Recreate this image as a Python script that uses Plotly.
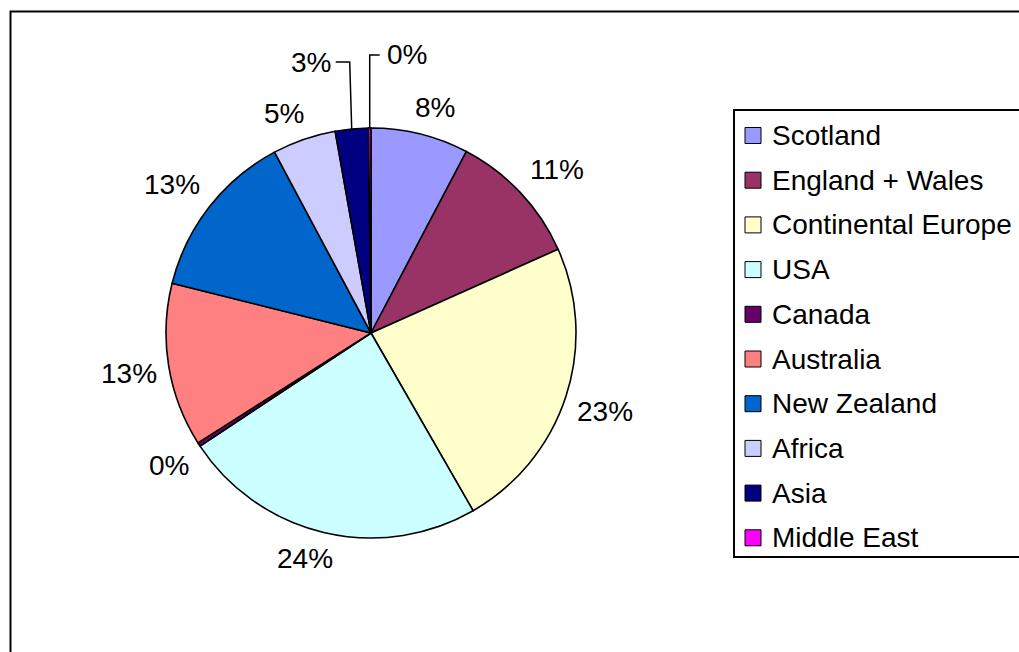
import math
import plotly.graph_objects as go

# Share of respondents by region of origin
regions = ["Scotland", "England + Wales", "Continental Europe", "USA", "Canada",
           "Australia", "New Zealand", "Africa", "Asia", "Middle East"]
shares = [7.7, 10.6, 23.4, 24.0, 0.3, 12.9, 13.3, 5.0, 2.6, 0.2]
colors = ["#9999FF", "#993366", "#FFFFCC", "#CCFFFF", "#660066",
          "#FF8080", "#0066CC", "#CCCCFF", "#000080", "#FF00FF"]

W, H = 1019, 652
cx, cy, R = 371, 333, 205          # pie centre and radius in pixels
FONT = "Liberation Sans, Arial, sans-serif"
FS = 28


def px(x):
    return x / W


def py(y):
    return 1 - y / H


def sat(v):
    return max(-1.0, min(1.0, 2.5 * v))


fig = go.Figure(go.Pie(
    labels=regions,
    values=shares,
    sort=False,
    direction="clockwise",
    rotation=0,
    marker=dict(colors=colors, line=dict(color="black", width=1.6)),
    textinfo="none",
    hoverinfo="label+percent",
    showlegend=False,
    domain=dict(x=[px(cx - R), px(cx + R)], y=[py(cy + R), py(cy - R)]),
))

annotations = []
shapes = []

total = sum(shares)
cum = 0.0
# labels that sit on an elbow leader line: (elbow y, horizontal run)
leaders = {"Asia": (62, -14), "Middle East": (55, 10)}
for name, v in zip(regions, shares):
    mid = (cum + v / 2) / total * 2 * math.pi
    cum += v
    pct = f"{round(v / total * 100):d}%"
    s, c = math.sin(mid), math.cos(mid)
    if name in leaders:
        ey, run = leaders[name]
        ex_, ey_ = cx + R * s, cy - R * c
        kx = ex_ - 2 if run < 0 else ex_
        shapes.append(dict(
            type="path", xref="paper", yref="paper",
            path=f"M {px(ex_)},{py(ey_)} L {px(kx)},{py(ey)} L {px(kx + run)},{py(ey)}",
            line=dict(color="black", width=1.5)))
        annotations.append(dict(
            x=px(kx + run + (-3 if run < 0 else 5)), y=py(ey), xref="paper", yref="paper",
            text=pct, showarrow=False, xanchor="right" if run < 0 else "left",
            yanchor="middle", font=dict(family=FONT, size=FS, color="black")))
        continue
    w = FS * (0.556 * (len(pct) - 1) + 0.889)
    h = FS * 1.05
    r = R + 12
    tx = cx + r * s + (w / 2) * sat(s)
    ty = cy - r * c - (h / 2) * sat(c)
    annotations.append(dict(
        x=px(tx), y=py(ty), xref="paper", yref="paper", text=pct,
        showarrow=False, xanchor="center", yanchor="middle",
        font=dict(family=FONT, size=FS, color="black")))

# outer chart frame
shapes.append(dict(type="rect", xref="paper", yref="paper",
                   x0=px(10.5), y0=py(11.5), x1=1.1, y1=-0.1,
                   line=dict(color="black", width=2), fillcolor="rgba(0,0,0,0)"))
# legend frame
shapes.append(dict(type="rect", xref="paper", yref="paper",
                   x0=px(734), y0=py(110), x1=1.1, y1=py(557),
                   line=dict(color="black", width=2), fillcolor="rgba(0,0,0,0)"))

# legend entries
for i, (name, col) in enumerate(zip(regions, colors)):
    yc = 135.5 + i * 44.7
    shapes.append(dict(type="rect", xref="paper", yref="paper",
                       x0=px(745), x1=px(761), y0=py(yc - 8), y1=py(yc + 8),
                       line=dict(color="black", width=1), fillcolor=col))
    annotations.append(dict(x=px(770), y=py(yc), xref="paper", yref="paper",
                            text=name, showarrow=False, xanchor="left", yanchor="middle",
                            font=dict(family=FONT, size=FS, color="black")))

fig.update_layout(
    width=W, height=H,
    margin=dict(l=0, r=0, t=0, b=0),
    paper_bgcolor="white",
    plot_bgcolor="white",
    annotations=annotations,
    shapes=shapes,
    showlegend=False,
)

fig.write_html("out.html")
